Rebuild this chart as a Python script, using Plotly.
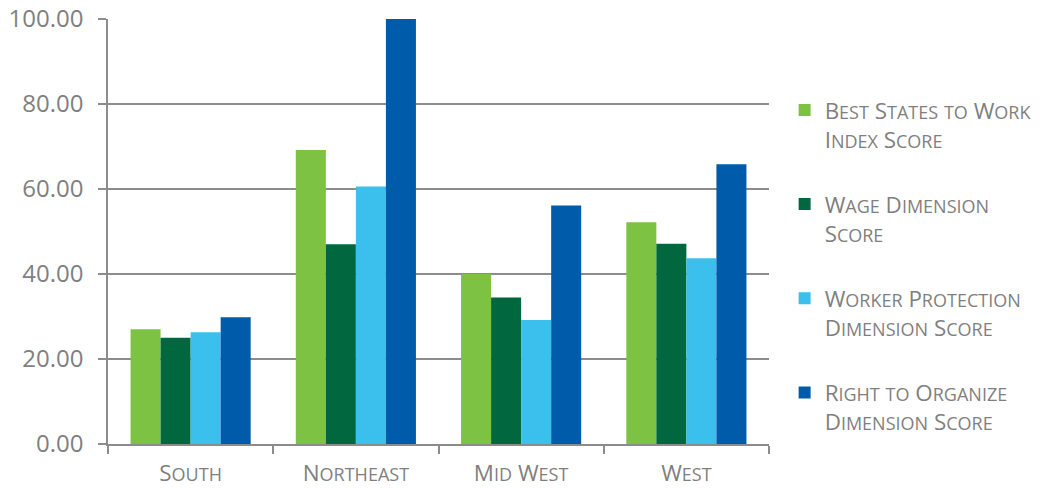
import re
import plotly.graph_objects as go

# Regional averages of the index and its three dimension scores
regions = ["South", "Northeast", "Mid West", "West"]
index_score = [27.0, 69.2, 40.0, 52.2]
wage_score = [25.0, 47.0, 34.5, 47.1]
protection_score = [26.3, 60.6, 29.2, 43.7]
organize_score = [29.8, 100.0, 56.1, 65.8]

series_names = [
    ["Best States to Work", "Index Score"],
    ["Wage Dimension", "Score"],
    ["Worker Protection", "Dimension Score"],
    ["Right to Organize", "Dimension Score"],
]
series_values = [index_score, wage_score, protection_score, organize_score]
series_colors = ["#7DC242", "#00673F", "#3BC0EE", "#005BAA"]

FONT = "Open Sans"
GREY_TEXT = "#7f7f7f"
GREY_LINE = "#8c8c8c"
CAP = 22.4      # size of capital letters
SMALL = 18.0    # size of the small-cap letters


def small_caps(text):
    """Render lowercase runs as smaller capitals via inline spans."""
    def repl(m):
        return f"<span style='font-size:{SMALL}px'>{m.group(0).upper()}</span>"
    return re.sub(r"[a-z]+", repl, text)


fig = go.Figure()
for i, (name, vals, col) in enumerate(zip(series_names, series_values, series_colors)):
    fig.add_trace(go.Bar(
        x=regions, y=vals,
        name="<br>".join(small_caps(line) for line in name),
        marker=dict(color=col, line=dict(width=0)),
        legendgroup=f"g{i}",
    ))

fig.update_layout(
    width=1042, height=488,
    margin=dict(l=108, r=273, t=19, b=44),
    paper_bgcolor="white", plot_bgcolor="white",
    barmode="group", bargap=0.273, bargroupgap=0,
    font=dict(family=FONT, color=GREY_TEXT),
    showlegend=True,
    legend=dict(
        xref="container", yref="container",
        x=0.753, y=0.818, xanchor="left", yanchor="top",
        font=dict(family=FONT, size=CAP, color=GREY_TEXT),
        valign="top", tracegroupgap=33, itemwidth=30,
        maxheight=460,
        bgcolor="rgba(0,0,0,0)",
    ),
)

fig.update_yaxes(
    range=[0, 100], dtick=20, tickformat=".2f",
    showgrid=True, gridcolor=GREY_LINE, gridwidth=1.5,
    zeroline=False, automargin=False,
    showline=True, linecolor=GREY_LINE, linewidth=1.5,
    ticks="outside", ticklen=8, tickcolor=GREY_LINE, tickwidth=1.5,
    tickfont=dict(family=FONT, size=24, color=GREY_TEXT),
    ticklabelstandoff=10,
)
fig.update_xaxes(
    tickmode="array", tickvals=regions,
    ticktext=[small_caps(r) for r in regions],
    automargin=False,
    showline=True, linecolor=GREY_LINE, linewidth=1.5,
    ticks="outside", ticklen=8, tickcolor=GREY_LINE, tickwidth=1.5,
    tickson="boundaries",
    tickfont=dict(family=FONT, size=CAP, color=GREY_TEXT),
    ticklabelstandoff=8,
)

fig.write_html("out.html")
